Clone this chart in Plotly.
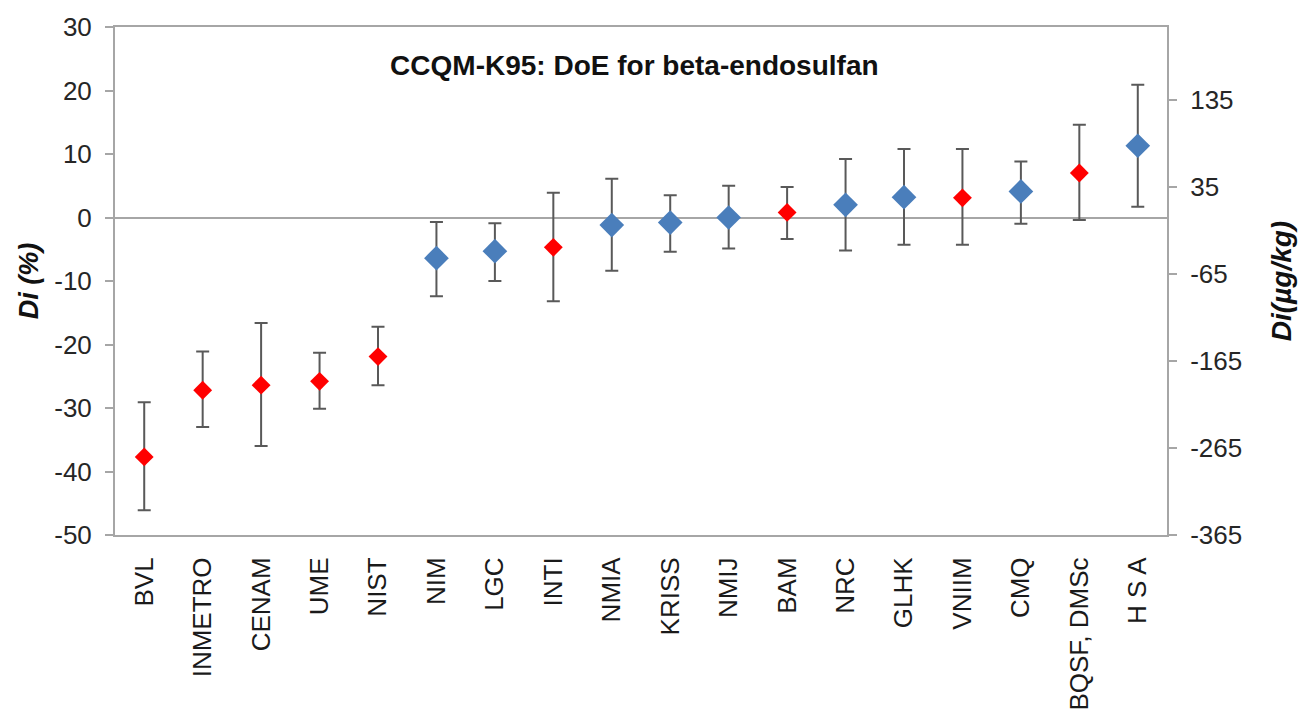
import plotly.graph_objects as go

# Degrees of equivalence, CCQM-K95 beta-endosulfan
labs = ["BVL", "INMETRO", "CENAM", "UME", "NIST", "NIM", "LGC", "INTI", "NMIA",
        "KRISS", "NMIJ", "BAM", "NRC", "GLHK", "VNIIM", "CMQ", "BQSF, DMSc", "H S A"]
di_pct = [-37.7, -27.2, -26.4, -25.8, -21.9, -6.4, -5.3, -4.7, -1.2,
          -0.8, 0.0, 0.8, 2.0, 3.2, 3.1, 4.1, 7.0, 11.3]
upper = [-29.1, -21.1, -16.6, -21.3, -17.2, -0.7, -0.9, 3.9, 6.1,
         3.5, 5.0, 4.8, 9.2, 10.8, 10.8, 8.8, 14.6, 20.9]
lower = [-46.1, -33.0, -36.0, -30.1, -26.4, -12.4, -10.0, -13.2, -8.4,
         -5.4, -4.9, -3.4, -5.2, -4.3, -4.3, -1.0, -0.4, 1.7]
red_set = ["BVL", "INMETRO", "CENAM", "UME", "NIST", "INTI", "BAM", "VNIIM", "BQSF, DMSc"]

kcrv = 730.0  # µg/kg, used to scale the secondary axis
left_range = [-50, 30]
left_ticks = [-50, -40, -30, -20, -10, 0, 10, 20, 30]
right_ticks = [-365, -265, -165, -65, 35, 135]

FONT = "Arial, Liberation Sans, sans-serif"
BAR = "#595959"
AXIS = "#a6a6a6"


def subset(is_red):
    idx = [i for i, c in enumerate(labs) if (c in red_set) == is_red]
    return ([labs[i] for i in idx], [di_pct[i] for i in idx],
            [upper[i] - di_pct[i] for i in idx], [di_pct[i] - lower[i] for i in idx])


fig = go.Figure()
for is_red, color, size in [(False, "#4a7ebb", 19), (True, "#ff0000", 14.5)]:
    x, y, up, dn = subset(is_red)
    fig.add_trace(go.Scatter(
        x=x, y=y, mode="markers",
        marker=dict(symbol="diamond", size=size, color=color, line=dict(width=0)),
        error_y=dict(type="data", symmetric=False, array=up, arrayminus=dn,
                     color=BAR, thickness=2, width=6.5),
        showlegend=False, hoverinfo="x+y",
    ))

# invisible companion trace so the µg/kg axis is laid out
fig.add_trace(go.Scatter(
    x=labs, y=[v * kcrv / 100 for v in di_pct], yaxis="y2", mode="markers",
    marker=dict(opacity=0), showlegend=False, hoverinfo="skip",
))

tickfont = dict(family=FONT, size=26, color="#262626")

fig.update_layout(
    width=1312, height=723,
    margin=dict(l=115, r=145, t=22, b=187),
    paper_bgcolor="white", plot_bgcolor="white",
    font=dict(family=FONT, color="#262626"),
    title=dict(text="<b>CCQM-K95: DoE for beta-endosulfan</b>",
               x=0.4835, xanchor="center", y=0.91, yanchor="middle",
               font=dict(family=FONT, size=28, color="#111111")),
    xaxis=dict(
        type="category", categoryorder="array", categoryarray=labs,
        range=[-0.5, len(labs) - 0.5],
        showline=True, linecolor=AXIS, linewidth=2, mirror=True,
        showgrid=False, ticks="", tickangle=-90,
        tickfont=dict(family=FONT, size=26, color="#1a1a1a"),
        ticklabelstandoff=10,
    ),
    yaxis=dict(
        range=left_range, tickmode="array", tickvals=left_ticks,
        ticktext=[str(v) for v in left_ticks],
        showline=True, linecolor=AXIS, linewidth=2,
        showgrid=False, zeroline=True, zerolinecolor=AXIS, zerolinewidth=2,
        ticks="outside", ticklen=8, tickcolor=AXIS, tickwidth=1.5,
        tickfont=tickfont, ticklabelstandoff=8,
        title=dict(text="<b><i>Di (%)</i></b>", standoff=8,
                   font=dict(family=FONT, size=27, color="#111111")),
    ),
    yaxis2=dict(
        overlaying="y", side="right",
        range=[left_range[0] * kcrv / 100, left_range[1] * kcrv / 100],
        tickmode="array", tickvals=right_ticks,
        ticktext=[str(v) for v in right_ticks],
        showline=True, linecolor=AXIS, linewidth=2,
        showgrid=False, zeroline=False,
        ticks="outside", ticklen=8, tickcolor=AXIS, tickwidth=1.5,
        tickfont=tickfont, ticklabelstandoff=8,
        title=dict(text="<b><i>Di(µg/kg)</i></b>", standoff=30,
                   font=dict(family=FONT, size=28, color="#111111")),
    ),
)

fig.write_html("out.html")
